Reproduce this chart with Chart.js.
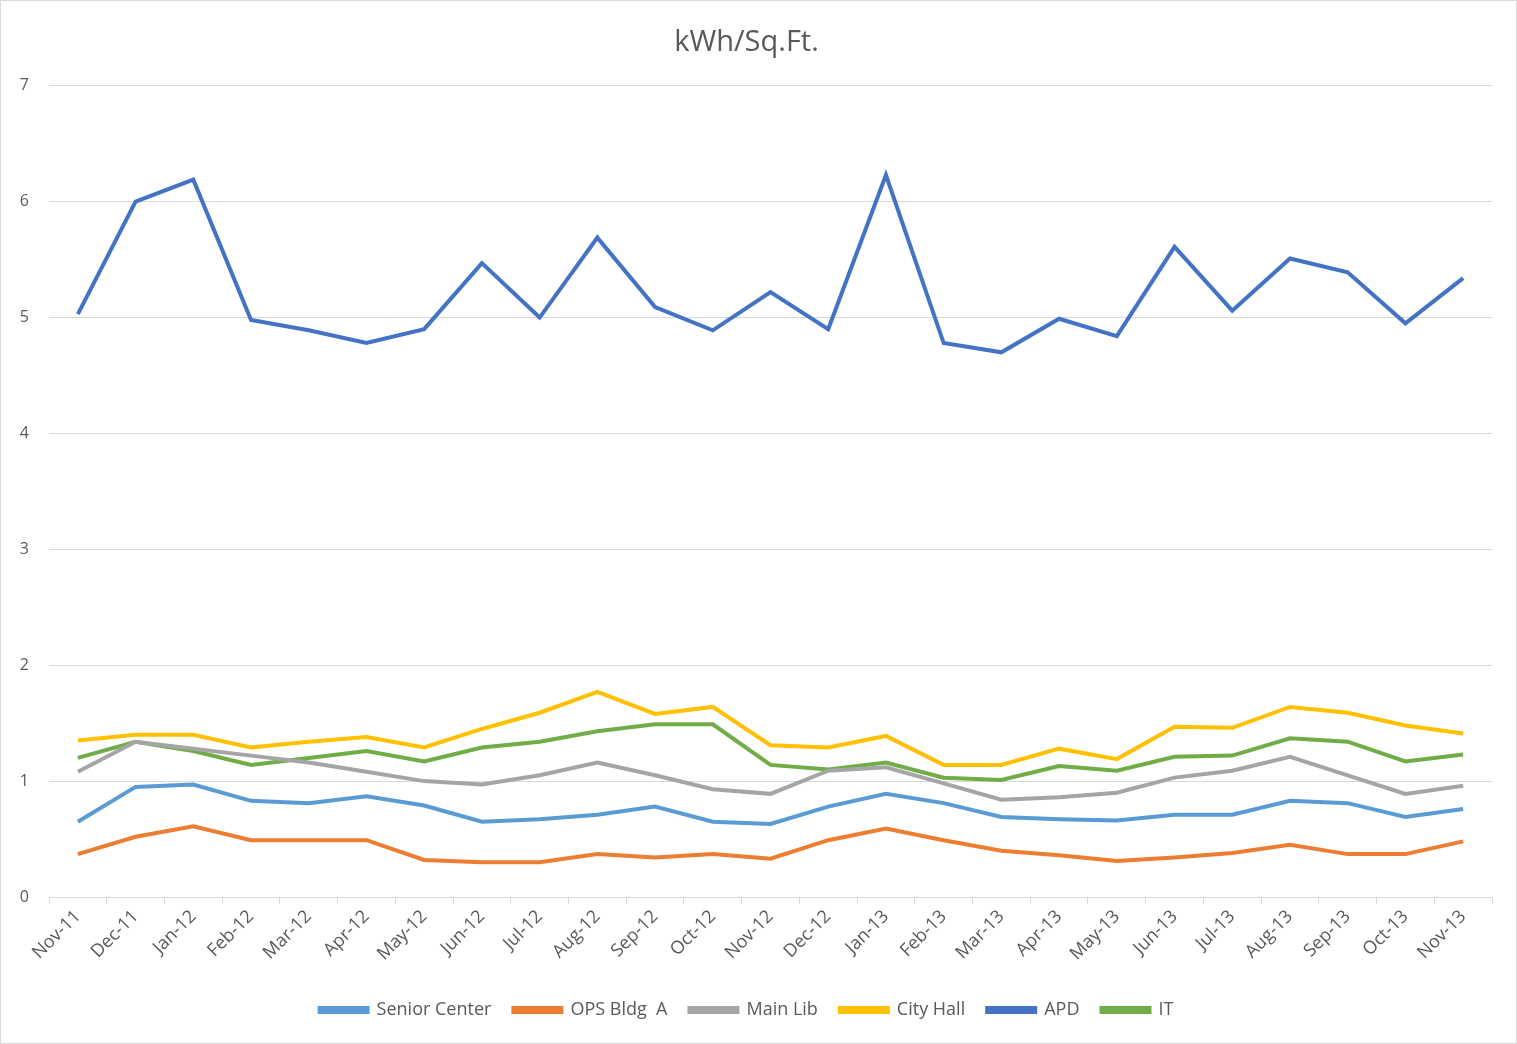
<!DOCTYPE html>
<html lang="en">
<head>
    <meta charset="UTF-8">
    <title>kWh/Sq.Ft.</title>
    <style>
        body { margin: 0; background: #fff; }
        .box {
            width: 1515px;
            height: 1042px;
            border: 1px solid #d9d9d9;
        }
    </style>
</head>
<body>
    <div class="box">
        <canvas id="myChart" width="1515" height="1042"></canvas>
    </div>

    <script src="https://cdn.jsdelivr.net/npm/chart.js"></script>
    <script>
        // months on the x axis
        let months = ['Nov-11', 'Dec-11', 'Jan-12', 'Feb-12', 'Mar-12', 'Apr-12', 'May-12', 'Jun-12',
            'Jul-12', 'Aug-12', 'Sep-12', 'Oct-12', 'Nov-12', 'Dec-12', 'Jan-13', 'Feb-13', 'Mar-13',
            'Apr-13', 'May-13', 'Jun-13', 'Jul-13', 'Aug-13', 'Sep-13', 'Oct-13', 'Nov-13'];

        // values
        let seniorCenter = [0.65, 0.95, 0.97, 0.83, 0.81, 0.87, 0.79, 0.65, 0.67, 0.71, 0.78, 0.65, 0.63,
            0.78, 0.89, 0.81, 0.69, 0.67, 0.66, 0.71, 0.71, 0.83, 0.81, 0.69, 0.76];
        let opsBldgA = [0.37, 0.52, 0.61, 0.49, 0.49, 0.49, 0.32, 0.30, 0.30, 0.37, 0.34, 0.37, 0.33,
            0.49, 0.59, 0.49, 0.40, 0.36, 0.31, 0.34, 0.38, 0.45, 0.37, 0.37, 0.48];
        let mainLib = [1.08, 1.34, 1.28, 1.22, 1.16, 1.08, 1.00, 0.97, 1.05, 1.16, 1.05, 0.93, 0.89,
            1.09, 1.12, 0.98, 0.84, 0.86, 0.90, 1.03, 1.09, 1.21, 1.05, 0.89, 0.96];
        let cityHall = [1.35, 1.40, 1.40, 1.29, 1.34, 1.38, 1.29, 1.45, 1.59, 1.77, 1.58, 1.64, 1.31,
            1.29, 1.39, 1.14, 1.14, 1.28, 1.19, 1.47, 1.46, 1.64, 1.59, 1.48, 1.41];
        let apd = [5.03, 6.00, 6.19, 4.98, 4.89, 4.78, 4.90, 5.47, 5.00, 5.69, 5.09, 4.89, 5.22,
            4.90, 6.23, 4.78, 4.70, 4.99, 4.84, 5.61, 5.06, 5.51, 5.39, 4.95, 5.34];
        let it = [1.20, 1.34, 1.26, 1.14, 1.20, 1.26, 1.17, 1.29, 1.34, 1.43, 1.49, 1.49, 1.14,
            1.10, 1.16, 1.03, 1.01, 1.13, 1.09, 1.21, 1.22, 1.37, 1.34, 1.17, 1.23];

        let yTicks = [0, 1, 2, 3, 4, 5, 6, 7];

        let series = [
            { name: 'Senior Center', data: seniorCenter, color: '#5b9bd5' },
            { name: 'OPS Bldg  A', data: opsBldgA, color: '#ed7d31' },
            { name: 'Main Lib', data: mainLib, color: '#a5a5a5' },
            { name: 'City Hall', data: cityHall, color: '#ffc000' },
            { name: 'APD', data: apd, color: '#4472c4' },
            { name: 'IT', data: it, color: '#70ad47' }
        ];

        let font = "'Open Sans', 'Liberation Sans', sans-serif";
        let textColor = '#595959';
        let gridColor = '#d9d9d9';

        let ctx = document.getElementById('myChart');
        let myChart = new Chart(ctx, {
            type: 'line',
            data: {
                labels: months,
                datasets: series.map(s => ({
                    label: s.name,
                    data: s.data,
                    borderColor: s.color,
                    backgroundColor: s.color,
                    borderWidth: 4,
                    pointRadius: 0,
                    tension: 0,
                    fill: false
                }))
            },
            options: {
                responsive: false,
                animation: false,
                layout: {
                    padding: { left: 0, right: 24, top: 10, bottom: 14 }
                },
                plugins: {
                    title: {
                        display: true,
                        text: 'kWh/Sq.Ft.',
                        color: textColor,
                        font: { family: font, size: 29, weight: 'normal' },
                        padding: { top: 14, bottom: 26 }
                    },
                    legend: {
                        position: 'bottom',
                        labels: {
                            color: textColor,
                            font: { family: font, size: 18 },
                            boxWidth: 48,
                            boxHeight: 4,
                            padding: 22
                        }
                    },
                    tooltip: { enabled: false }
                },
                scales: {
                    x: {
                        offset: true,
                        grid: {
                            offset: true,
                            drawOnChartArea: false,
                            drawTicks: true,
                            tickLength: 7,
                            color: gridColor
                        },
                        border: { color: gridColor, width: 1 },
                        ticks: {
                            color: textColor,
                            font: { family: font, size: 18 },
                            minRotation: 45,
                            maxRotation: 45,
                            autoSkip: false,
                            padding: 2
                        },
                        afterFit: function (scale) {
                            scale.height = 82;
                        }
                    },
                    y: {
                        min: 0,
                        max: 7,
                        afterBuildTicks: function (scale) {
                            scale.ticks = yTicks.map(v => ({ value: v }));
                        },
                        grid: {
                            color: gridColor,
                            drawTicks: false
                        },
                        border: { display: false },
                        ticks: {
                            color: textColor,
                            font: { family: font, size: 16 },
                            padding: 20
                        },
                        afterFit: function (scale) {
                            scale.width = 48;
                        }
                    }
                }
            }
        });
    </script>
</body>
</html>
